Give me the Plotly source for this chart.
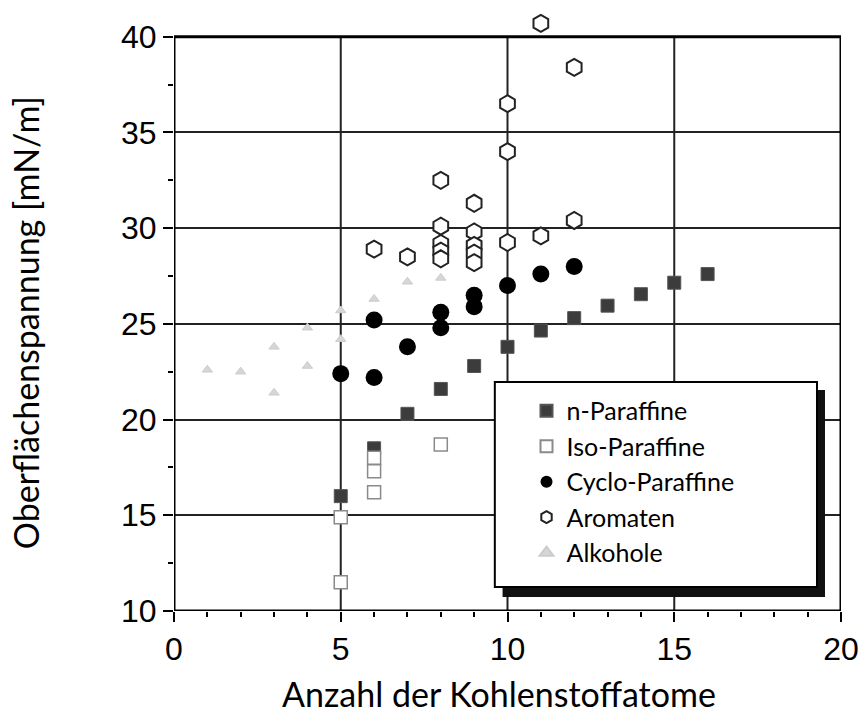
import plotly.graph_objects as go

# ---- data ----
n_par_x = [5, 6, 7, 8, 9, 10, 11, 12, 13, 14, 15, 16]
n_par_y = [16.0, 18.5, 20.3, 21.6, 22.8, 23.8, 24.65, 25.3, 25.95, 26.55, 27.15, 27.6]

iso_par_x = [5, 5, 6, 6, 6, 8]
iso_par_y = [14.9, 11.5, 18.0, 17.3, 16.2, 18.7]

cyclo_x = [5, 6, 6, 7, 8, 8, 9, 9, 10, 11, 12]
cyclo_y = [22.4, 25.2, 22.2, 23.8, 25.6, 24.8, 26.5, 25.9, 27.0, 27.6, 28.0]

arom_x = [6, 7, 8, 8, 8, 8, 8, 9, 9, 9, 9, 9, 10, 10, 10, 11, 11, 12, 12]
arom_y = [28.9, 28.5, 32.5, 30.1, 29.2, 28.8, 28.4, 31.3, 29.8, 29.1, 28.7, 28.2,
          36.5, 34.0, 29.25, 40.7, 29.6, 38.4, 30.4]

alk_x = [1, 2, 3, 3, 4, 4, 5, 5, 6, 7, 8]
alk_y = [22.6, 22.5, 21.4, 23.8, 22.8, 24.8, 25.7, 24.2, 26.3, 27.2, 27.4]

x_ticks = [0, 5, 10, 15, 20]
y_ticks = [10, 15, 20, 25, 30, 35, 40]
y_minor = [12.5, 17.5, 22.5, 27.5, 32.5, 37.5]

x_title = "Anzahl der Kohlenstoffatome"
y_title = "Oberflächenspannung [mN/m]"

TITLE_FONT = "Lato"
TICK_FONT = "Liberation Sans"

fig = go.Figure()

fig.add_trace(go.Scatter(
    x=alk_x, y=alk_y, mode="markers", name="Alkohole", legendrank=5,
    marker=dict(symbol="triangle-up", size=9, color="#d6d6d6",
                line=dict(color="#cccccc", width=1)),
    cliponaxis=False))
fig.add_trace(go.Scatter(
    x=n_par_x, y=n_par_y, mode="markers", name="n-Paraffine", legendrank=1,
    marker=dict(symbol="square", size=13, color="#3c3c3c",
                line=dict(color="#555555", width=1)),
    cliponaxis=False))
fig.add_trace(go.Scatter(
    x=iso_par_x, y=iso_par_y, mode="markers", name="Iso-Paraffine", legendrank=2,
    marker=dict(symbol="square", size=13, color="white",
                line=dict(color="#8a8a8a", width=1.5)),
    cliponaxis=False))
fig.add_trace(go.Scatter(
    x=cyclo_x, y=cyclo_y, mode="markers", name="Cyclo-Paraffine", legendrank=3,
    marker=dict(symbol="circle", size=17, color="black",
                line=dict(color="black", width=0)),
    cliponaxis=False))
fig.add_trace(go.Scatter(
    x=arom_x, y=arom_y, mode="markers", name="Aromaten", legendrank=4,
    marker=dict(symbol="hexagon", size=17, color="white",
                line=dict(color="#222222", width=2)),
    cliponaxis=False))

# frame (0..20 x 10..40) and vertical grid lines, built from the tick lists
shapes = []
for gx in x_ticks[1:-1]:
    shapes.append(dict(type="line", xref="x", yref="y", x0=gx, x1=gx,
                       y0=y_ticks[0], y1=y_ticks[-1],
                       line=dict(color="#222222", width=2), layer="below"))
shapes.append(dict(type="rect", xref="x", yref="y", x0=x_ticks[0], x1=x_ticks[-1],
                   y0=y_ticks[0], y1=y_ticks[-1],
                   line=dict(color="black", width=3), layer="above"))
# legend shadow and box (paper coordinates)
shapes.append(dict(type="rect", xref="paper", yref="paper", x0=0.4926, x1=0.976,
                   y0=0.0232, y1=0.3665, fillcolor="#111111", line=dict(width=0),
                   layer="above"))
shapes.append(dict(type="rect", xref="paper", yref="paper", x0=0.481, x1=0.964,
                   y0=0.0398, y1=0.3798, fillcolor="white",
                   line=dict(color="black", width=2), layer="above"))

fig.update_layout(
    width=867, height=718,
    margin=dict(l=174, r=21, t=8, b=107),
    plot_bgcolor="white", paper_bgcolor="white",
    showlegend=True,
    legend=dict(x=0.5285, y=0.370, xanchor="left", yanchor="top",
                bgcolor="rgba(0,0,0,0)", borderwidth=0,
                font=dict(family=TITLE_FONT, size=25, color="black"),
                itemsizing="constant"),
    shapes=shapes,
    annotations=[
        dict(text=x_title, xref="paper", yref="paper", x=0.488, y=-0.136,
             xanchor="center", yanchor="middle", showarrow=False,
             font=dict(family=TITLE_FONT, size=34, color="black")),
        dict(text=y_title, xref="paper", yref="paper", x=-0.223, y=0.4776,
             xanchor="center", yanchor="middle", showarrow=False, textangle=-90,
             font=dict(family=TITLE_FONT, size=34, color="black")),
    ],
)

fig.update_xaxes(
    range=[0, 20], tickvals=x_ticks, ticktext=[str(v) for v in x_ticks],
    ticks="outside", ticklen=10, tickwidth=2, tickcolor="black",
    showline=False, showgrid=False, zeroline=False,
    minor=dict(dtick=1, tick0=0, ticks="outside", ticklen=5, tickwidth=2,
               tickcolor="black", showgrid=False),
    tickfont=dict(family=TICK_FONT, size=32, color="black"),
)
fig.update_yaxes(
    range=[10, 41.5], tickvals=y_ticks, ticktext=[str(v) for v in y_ticks],
    ticks="outside", ticklen=10, tickwidth=2, tickcolor="black",
    showline=False, showgrid=True, gridcolor="#222222", gridwidth=2, zeroline=False,
    minor=dict(tickvals=y_minor, ticks="outside",
               ticklen=5, tickwidth=2, tickcolor="black", showgrid=False),
    tickfont=dict(family=TICK_FONT, size=32, color="black"),
)

fig.write_html("out.html", config={"displayModeBar": False},
               post_script="document.body.style.margin='0px';")
